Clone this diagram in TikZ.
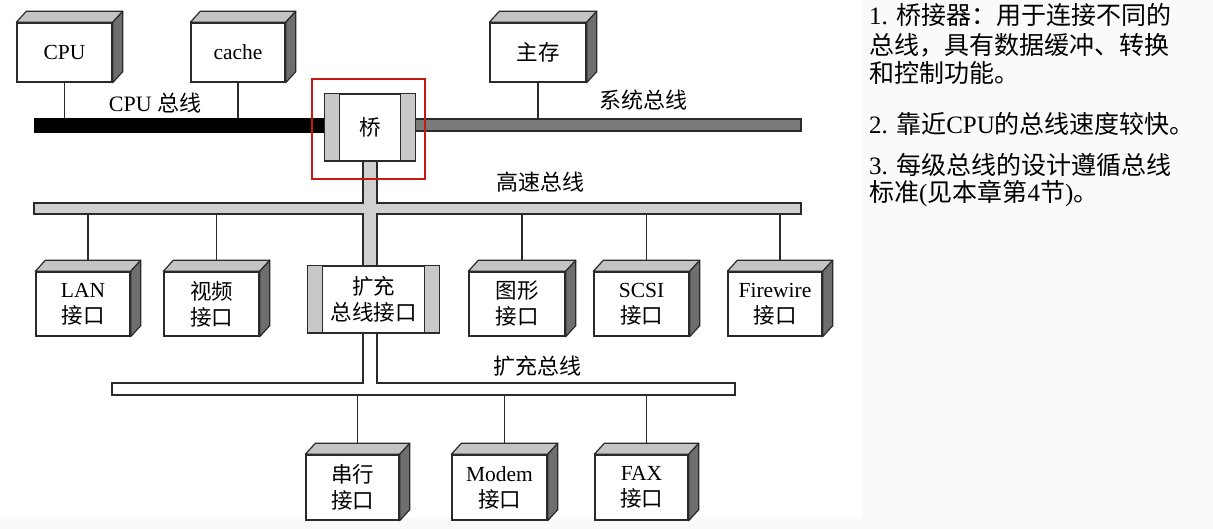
\documentclass[tikz,border=0pt]{standalone}
\usepackage{fontspec}
\setmainfont{Liberation Serif}
\newfontfamily\cjk{Noto Sans CJK SC}
\usetikzlibrary{calc}
\newcommand\C[1]{{\cjk #1}}
\definecolor{topgray}{HTML}{C4C4C4}
\definecolor{sidegray}{HTML}{6E6E6E}
\definecolor{stripgray}{HTML}{C8C8C8}
\definecolor{busgray}{HTML}{D0D0D0}
\definecolor{sysgray}{HTML}{7A7A7A}
\definecolor{edge}{HTML}{2A2A2A}
\definecolor{redbox}{HTML}{C41A12}
\definecolor{panelbg}{HTML}{FAFAFA}
\tikzset{
  front/.style={draw=edge, line width=1.4pt, fill=white, inner sep=0pt, align=center,
    font=\fontsize{21.5}{26}\selectfont},
  topface/.style={draw=edge, line width=1.2pt, fill=topgray, line join=round},
  sideface/.style={draw=edge, line width=1.2pt, fill=sidegray, line join=round},
  wire/.style={draw=edge, line width=1.4pt},
  strip/.style={draw=edge, line width=1.2pt, fill=stripgray},
  buslabel/.style={font=\fontsize{22}{26}\selectfont, inner sep=0pt},
  panel/.style={anchor=west, inner sep=0pt, font=\fontsize{25}{29}\selectfont}
}
\newcommand\threeD[1]{%
  \filldraw[topface] (#1.north west) -- ++(10,-11) -- ($(#1.north east)+(10,-11)$) -- (#1.north east) -- cycle;
  \filldraw[sideface] (#1.north east) -- ++(10,-11) -- ($(#1.south east)+(10,-11)$) -- (#1.south east) -- cycle;
  \draw[draw=edge, line width=1.4pt] (#1.north west) rectangle (#1.south east);}
\begin{document}
\begin{tikzpicture}[x=1pt,y=-1pt]
\useasboundingbox (0,0) rectangle (1213,529);
\fill[panelbg] (862,0) rectangle (1213,529);
\fill[panelbg] (0,517) rectangle (862,529);

% ---------- buses ----------
\node[fill=black, draw=black, minimum width=291pt, minimum height=14pt, inner sep=0pt] (cpubus) at (179.5,125) {};
\node[fill=sysgray, draw=edge, line width=1.2pt, minimum width=386pt, minimum height=12pt, inner sep=0pt] (sysbus) at (608,125) {};
\filldraw[fill=busgray, draw=edge, line width=1.2pt]
  (34,203) -- (363,203) -- (363,161) -- (377,161) -- (377,203) -- (801,203) -- (801,214)
  -- (377,214) -- (377,266) -- (363,266) -- (363,214) -- (34,214) -- cycle;
\coordinate (hsbus) at (417.5,214);
\filldraw[fill=white, draw=edge, line width=1.2pt]
  (112,383) -- (363,383) -- (363,333) -- (377,333) -- (377,383) -- (735,383) -- (735,395) -- (112,395) -- cycle;
\coordinate (extbus) at (423.5,395);

% ---------- top boxes ----------
\node[front, minimum width=95pt, minimum height=59pt] (cpu) at (64.5,52.5) {CPU};
\node[front, minimum width=94pt, minimum height=59pt] (cache) at (238,52.5) {cache};
\node[front, minimum width=96pt, minimum height=59pt] (mem) at (538,52.5) {\C{主存}};
\threeD{cpu}\threeD{cache}\threeD{mem}
\draw[wire] (cpu.south) -- (cpu.south |- cpubus.north);
\draw[wire] (cache.south) -- (cache.south |- cpubus.north);
\draw[wire] (mem.south) -- (mem.south |- sysbus.north);

% ---------- bridge ----------
\node[front, minimum width=90pt, minimum height=67pt] (bridge) at (370,127.5) {\C{桥}};
\filldraw[strip] (bridge.north west) rectangle ++(15,67);
\filldraw[strip] (bridge.north east) rectangle ++(-15,67);
\draw[redbox, line width=2.4pt] (312,79) rectangle (425,179);

% ---------- middle boxes ----------
\node[front, minimum width=94pt, minimum height=64pt] (lan) at (83,304) {LAN\\\C{接口}};
\node[front, minimum width=95pt, minimum height=64pt] (video) at (211.5,304) {\C{视频}\\\C{接口}};
\node[front, minimum width=96pt, minimum height=64pt] (gfx) at (517,304) {\C{图形}\\\C{接口}};
\node[front, minimum width=95pt, minimum height=64pt] (scsi) at (641.5,304) {SCSI\\\C{接口}};
\node[front, minimum width=94pt, minimum height=64pt] (fw) at (775,304) {Firewire\\\C{接口}};
\threeD{lan}\threeD{video}\threeD{gfx}\threeD{scsi}\threeD{fw}
\foreach \b in {lan,video,gfx,scsi,fw}{
  \coordinate (\b T) at ($(\b.north)+(5,-11)$);
  \draw[wire] (\b T) -- (\b T |- hsbus);
}

% ---------- expansion bus interface ----------
\node[front, minimum width=131pt, minimum height=67pt] (extif) at (373.5,299.5) {\C{扩充}\\\C{总线接口}};
\filldraw[strip] (extif.north west) rectangle ++(15,67);
\filldraw[strip] (extif.north east) rectangle ++(-15,67);

% ---------- bottom boxes ----------
\node[front, minimum width=93pt, minimum height=65pt] (serial) at (352.5,487.5) {\C{串行}\\\C{接口}};
\node[front, minimum width=95pt, minimum height=65pt] (modem) at (499.5,487.5) {Modem\\\C{接口}};
\node[front, minimum width=93pt, minimum height=65pt] (fax) at (641.5,487.5) {FAX\\\C{接口}};
\threeD{serial}\threeD{modem}\threeD{fax}
\foreach \b in {serial,modem,fax}{
  \coordinate (\b T) at ($(\b.north)+(5,-11)$);
  \draw[wire] (\b T) -- (\b T |- extbus);
}

% ---------- bus labels ----------
\node[buslabel] (lcpu) at (155,103) {CPU \C{总线}};
\node[buslabel] (lsys) at (643,100) {\C{系统总线}};
\node[buslabel] (lhs) at (540,182) {\C{高速总线}};
\node[buslabel] (lext) at (537,366) {\C{扩充总线}};

% ---------- side notes ----------
\node[panel] (p1) at (869,15) {1. \C{桥接器：用于连接不同的}};
\node[panel] (p2) at (869,45) {\C{总线，具有数据缓冲、转换}};
\node[panel] (p3) at (869,73) {\C{和控制功能。}};
\node[panel] (p4) at (869,124) {2. \C{靠近}CPU\C{的总线速度较快。}};
\node[panel] (p5) at (869,165) {3. \C{每级总线的设计遵循总线}};
\node[panel] (p6) at (869,193) {\C{标准}(\C{见本章第}4\C{节})\C{。}};
\end{tikzpicture}
\end{document}
